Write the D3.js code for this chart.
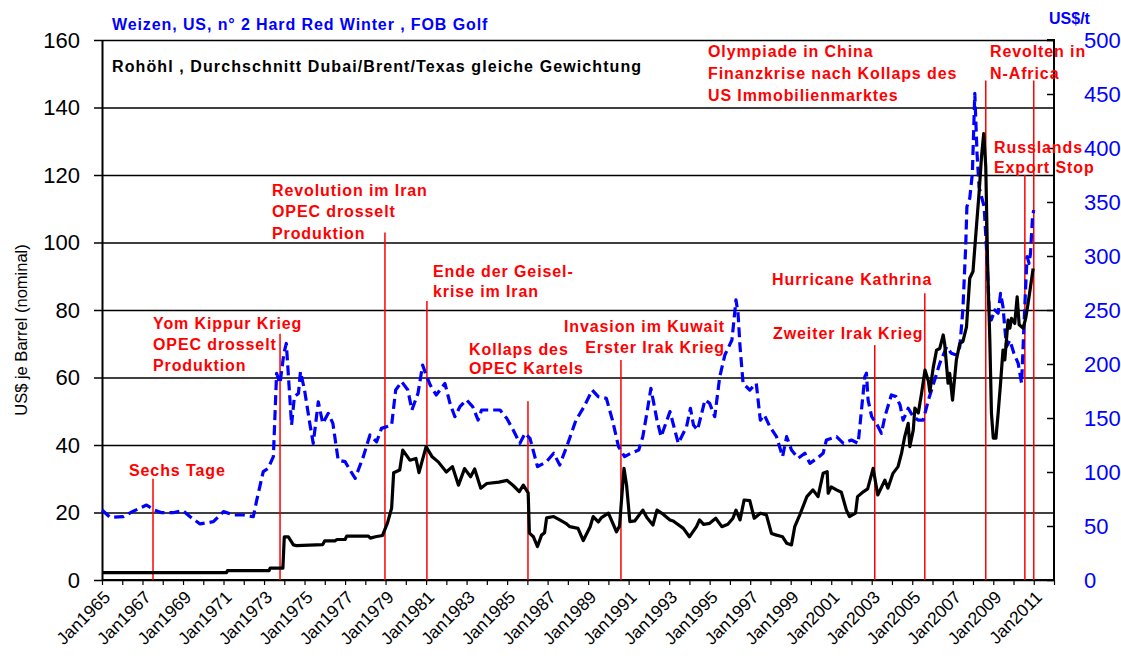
<!DOCTYPE html>
<html>
<head>
<meta charset="utf-8">
<script src="https://cdn.jsdelivr.net/npm/d3@7"></script>
<style>
  body { margin: 0; background: #fff; }
  svg { display: block; font-family: "Liberation Sans", Arial, sans-serif; }
</style>
</head>
<body>
<svg id="chart" width="1121" height="660"></svg>
<script>
// ---------------- DATA ----------------
const oilYears = [1965.0,1971.15,1971.2,1973.25,1973.3,1973.93,1974.0,1974.2,1974.45,1974.6,1975.9,1976.0,1976.5,1976.6,1977.0,1977.08,1978.15,1978.25,1978.5,1978.85,1979.1,1979.3,1979.4,1979.7,1979.85,1980.2,1980.5,1980.65,1981.0,1981.3,1981.6,1982.0,1982.3,1982.6,1982.9,1983.2,1983.4,1983.7,1984.0,1984.6,1985.0,1985.3,1985.6,1985.8,1986.04,1986.1,1986.3,1986.5,1986.7,1986.85,1986.95,1987.3,1987.6,1987.9,1988.1,1988.5,1988.76,1989.1,1989.25,1989.5,1989.66,1990.0,1990.4,1990.55,1990.77,1990.9,1991.06,1991.3,1991.7,1991.9,1992.2,1992.4,1992.7,1993.04,1993.2,1993.7,1994.0,1994.35,1994.5,1994.7,1995.0,1995.3,1995.6,1995.9,1996.15,1996.3,1996.5,1996.7,1996.98,1997.2,1997.5,1997.8,1998.05,1998.3,1998.6,1998.8,1999.04,1999.2,1999.45,1999.8,2000.1,2000.35,2000.6,2000.8,2000.85,2001.0,2001.26,2001.5,2001.75,2001.9,2002.2,2002.3,2002.6,2002.8,2003.07,2003.3,2003.65,2003.8,2004.05,2004.3,2004.47,2004.63,2004.8,2004.88,2005.05,2005.13,2005.3,2005.46,2005.63,2005.8,2005.87,2006.03,2006.2,2006.36,2006.53,2006.6,2006.77,2006.85,2006.99,2007.18,2007.35,2007.5,2007.68,2007.84,2008.0,2008.17,2008.3,2008.42,2008.53,2008.63,2008.72,2008.83,2008.91,2009.0,2009.13,2009.24,2009.36,2009.48,2009.57,2009.73,2009.82,2009.9,2010.06,2010.18,2010.28,2010.48,2010.6,2010.72,2010.84,2010.97];
const oilValues = [2.2,2.2,2.8,2.8,3.5,3.5,12.8,12.8,10.4,10.2,10.5,11.6,11.6,12.0,12.0,13.0,13.0,12.4,12.8,13.2,17,21.3,31.8,32.6,38.5,35.5,36,31.8,39.5,36.5,35,32,33.6,28.1,33,30.6,32.9,27.2,28.6,29,29.5,28,26.2,28.1,25.8,13.9,12.8,9.9,13.3,14,18.4,18.8,17.8,16.8,15.8,15.3,11.7,15.8,18.8,17.2,18.5,19.8,14.3,16,33.1,28,17.3,17.5,20.7,18.5,16.3,20.7,19.5,17.8,17.5,15.3,12.8,15.8,17.8,16.5,16.8,18.3,15.8,16.5,18.3,20.7,17.8,23.7,23.5,18.3,19.8,19.3,13.8,13.3,12.8,10.9,10.4,15.8,19.3,24.7,26.7,24.7,31.6,32.1,25.7,27.6,26.7,26,20.7,18.8,19.8,24.7,26.2,27,33.1,25.2,29.6,27.2,31.6,33.6,37.5,42.5,46.4,39.5,44.4,50.9,49.5,55.3,62.2,58.8,55.8,62.7,68.1,68.6,72.6,70.1,58.3,61.2,53.3,65.2,70.1,70.6,75,89.4,91.4,104.7,114.6,125.4,132.3,122.5,93.8,71.1,49.4,42,42,49.4,58.3,68.1,65.2,77,74.6,77.5,76,83.9,75.6,74.6,77.5,82,86.9,92.3];

const wheatYears = [1965.0,1965.4,1966.05,1966.5,1967.2,1967.6,1967.95,1968.5,1969.0,1969.35,1969.84,1970.5,1971.0,1971.5,1971.97,1972.47,1972.64,1972.96,1973.2,1973.46,1973.62,1973.79,1973.98,1974.1,1974.36,1974.5,1974.7,1974.8,1975.0,1975.26,1975.43,1975.68,1975.9,1976.17,1976.4,1976.66,1977.0,1977.24,1977.5,1977.9,1978.23,1978.56,1978.8,1979.3,1979.5,1979.8,1980.1,1980.3,1980.6,1980.83,1981.0,1981.2,1981.5,1981.93,1982.18,1982.42,1982.67,1983.0,1983.3,1983.57,1983.74,1984.15,1984.65,1984.98,1985.3,1985.63,1985.88,1986.13,1986.5,1986.95,1987.3,1987.6,1988.0,1988.4,1988.8,1989.2,1989.5,1989.9,1990.2,1990.5,1990.8,1991.1,1991.5,1991.7,1991.9,1992.1,1992.4,1992.6,1993.04,1993.45,1993.86,1994.05,1994.2,1994.4,1994.77,1995.0,1995.25,1995.5,1995.75,1996.1,1996.3,1996.4,1996.5,1996.65,1996.98,1997.3,1997.5,1997.7,1997.97,1998.3,1998.6,1998.8,1999.04,1999.37,1999.7,1999.95,2000.3,2000.6,2000.76,2001.26,2001.6,2002.0,2002.33,2002.66,2002.74,2002.82,2003.0,2003.23,2003.48,2003.65,2003.97,2004.2,2004.4,2004.55,2004.8,2005.05,2005.3,2005.54,2005.8,2006.03,2006.36,2006.7,2006.93,2007.18,2007.35,2007.5,2007.64,2007.7,2007.84,2007.97,2008.09,2008.2,2008.3,2008.42,2008.55,2008.67,2008.8,2008.9,2009.08,2009.24,2009.36,2009.48,2009.65,2009.82,2010.02,2010.23,2010.4,2010.5,2010.6,2010.67,2010.77,2010.84,2010.94,2011.0];
const wheatValues = [64.8,58,58.6,63.3,69.4,64.8,62.3,62.3,64.2,58.6,51.9,54,63.3,60.2,60.2,58.6,74,100.3,103.4,114.2,191.4,182,210,219,143.5,169.8,172.8,192.9,175.9,145,126.5,165,145,154.3,145,111,109.6,101.9,94.1,114.2,134.3,128,140.4,143.5,175.9,183.6,175.9,157.4,172.8,199,189.8,180.6,171.3,182,163.6,151.2,160.5,166.7,160.5,148.1,157.4,157.4,157.4,149.7,138.9,126.5,135.8,131.2,104.9,109.6,117.3,106.5,126.5,148,160.5,175.9,169.8,168.2,148,123.5,114.2,117.3,120.4,132.7,154.3,177.5,148,132.7,155.9,126.5,142,159,143.5,138.9,166.7,163.6,151.2,188.3,208.3,222.2,259.3,247,216,182,175.9,182,148,152.8,142,132.7,114.2,132.7,120.4,112.7,117.3,108,112.7,117.3,129.6,132.7,126.5,129.6,126.5,188.3,191.4,166.7,151.2,145,135.8,151.2,171.3,169.8,162,148,159,151.2,148,148,166.7,180.6,200.6,216,209.9,208.3,216,250,308.6,345.7,353.4,376.5,450.6,395,364,355,345.7,305.6,250,240.7,250,247,265.4,253,216,222,209.9,200.6,182,228.4,271.6,299.4,293.2,302.5,336.4,342.6];

const leftTicks = [0,20,40,60,80,100,120,140,160];
const rightTicks = [0,50,100,150,200,250,300,350,400,450,500];
const xLabelYears = d3.range(1965, 2012, 2);

// events: date (decimal year), top of marker (in left-axis units), label lines
const eventYears = [1967.52, 1973.79, 1978.97, 1981.04, 1986.03, 1990.62, 2003.15, 2005.62, 2008.63, 2010.56, 2011.0];
const eventTops  = [30, 73, 103, 82.7, 53, 65.2, 69.6, 85, 148, 120, 148];
const eventTexts = [
  ["Sechs Tage"],
  ["Yom Kippur Krieg", "OPEC drosselt", "Produktion"],
  ["Revolution im Iran", "OPEC drosselt", "Produktion"],
  ["Ende der Geisel-", "krise im Iran"],
  ["Kollaps des", "OPEC Kartels"],
  ["Invasion im Kuwait", "Erster Irak Krieg"],
  ["Zweiter Irak Krieg"],
  ["Hurricane Kathrina"],
  ["Olympiade in China", "Finanzkrise nach Kollaps des", "US Immobilienmarktes"],
  ["Russlands", "Export Stop"],
  ["Revolten in", "N-Africa"]
];

// ---------------- LAYOUT ----------------
const labelPos = [
  {x:129, y:470, anchor:"start"},
  {x:153, y:323, anchor:"start"},
  {x:272, y:190, anchor:"start"},
  {x:433, y:271, anchor:"start"},
  {x:469, y:349, anchor:"start"},
  {x:725, y:326, anchor:"end"},
  {x:773, y:333, anchor:"start"},
  {x:772, y:279, anchor:"start"},
  {x:708, y:51, anchor:"start"},
  {x:994, y:147, anchor:"start"},
  {x:990, y:51, anchor:"start"}
];
const lineGap = [21, 21, 21.5, 20.5, 19.5, 21, 21, 21, 22, 20.5, 22];

const plot = {left:102, right:1054, top:40, bottom:580};
const labelFont = {size: 16, spacing: 0.9};

function toDate(v) {
  const y = Math.floor(v);
  const s = new Date(y, 0, 1), e = new Date(y + 1, 0, 1);
  return new Date(+s + (v - y) * (e - s));
}

const svg = d3.select("#chart");
const x = d3.scaleTime().domain([new Date(1965,0,1), new Date(2012,0,1)]).range([plot.left, plot.right]);
const yL = d3.scaleLinear().domain([0,160]).range([plot.bottom, plot.top]);
const yR = d3.scaleLinear().domain([0,500]).range([plot.bottom, plot.top]);

// gridlines (left axis) with outer ticks
const gridAxis = d3.axisLeft(yL).tickValues(leftTicks).tickSize(-(plot.right - plot.left)).tickFormat("");
const gG = svg.append("g").attr("transform", `translate(${plot.left},0)`).call(gridAxis);
gG.select(".domain").remove();
gG.selectAll(".tick line").attr("stroke", "#000").attr("stroke-width", 1.5).attr("x1", -8);

// left axis labels + line
const lAxis = d3.axisLeft(yL).tickValues(leftTicks).tickSize(0).tickPadding(22);
const lG = svg.append("g").attr("transform", `translate(${plot.left},0)`).call(lAxis);
lG.select(".domain").attr("stroke", "#000").attr("stroke-width", 2);
lG.selectAll(".tick text").attr("font-size", 22).attr("fill", "#000").attr("font-family", "Liberation Sans, Arial, sans-serif");

// right axis
const rAxis = d3.axisRight(yR).tickValues(rightTicks).tickSize(-7).tickPadding(30);
const rG = svg.append("g").attr("transform", `translate(${plot.right},0)`).call(rAxis);
rG.select(".domain").attr("stroke", "#000").attr("stroke-width", 2).attr("d", `M-7,${plot.top}H0V${plot.bottom}H-7`);
rG.selectAll(".tick line").attr("stroke", "#000").attr("stroke-width", 1.5);
rG.selectAll(".tick text").attr("font-size", 22).attr("fill", "#0000ff").attr("font-family", "Liberation Sans, Arial, sans-serif");

// x axis
const xAxis = d3.axisBottom(x).ticks(d3.timeYear.every(1)).tickSize(5).tickFormat("");
const xG = svg.append("g").attr("transform", `translate(0,${plot.bottom})`).call(xAxis);
xG.select(".domain").attr("stroke", "#000").attr("stroke-width", 2).attr("d", `M${plot.left},0H${plot.right}`);
xG.selectAll(".tick line").attr("stroke", "#000").attr("stroke-width", 1.2);

svg.append("g").selectAll("text").data(xLabelYears).join("text")
  .attr("transform", d => `translate(${x(new Date(d,0,1)) + 5},${plot.bottom + 14}) rotate(-45)`)
  .attr("text-anchor", "end")
  .attr("dy", "0.35em")
  .attr("font-size", 17.5)
  .attr("fill", "#000")
  .text(d => "Jan" + d);

// event lines
svg.append("g").selectAll("line").data(eventYears).join("line")
  .attr("x1", d => x(toDate(d))).attr("x2", d => x(toDate(d)))
  .attr("y1", (d,i) => yL(eventTops[i])).attr("y2", plot.bottom)
  .attr("stroke", "#ff0000").attr("stroke-width", 1.5);

// series
const wheat = wheatYears.map((d,i) => ({date: toDate(d), v: wheatValues[i]}));
const oil = oilYears.map((d,i) => ({date: toDate(d), v: oilValues[i]}));

svg.append("path").datum(wheat)
  .attr("fill", "none").attr("stroke", "#0000ff").attr("stroke-width", 3.2)
  .attr("stroke-dasharray", "10,5").attr("stroke-linejoin", "round")
  .attr("d", d3.line().x(d => x(d.date)).y(d => yR(d.v)));

svg.append("path").datum(oil)
  .attr("fill", "none").attr("stroke", "#000").attr("stroke-width", 3.2)
  .attr("stroke-linejoin", "round")
  .attr("d", d3.line().x(d => x(d.date)).y(d => yL(d.v)));

// event labels
eventTexts.forEach((lines, i) => {
  const p = labelPos[i];
  const t = svg.append("text")
    .attr("font-size", labelFont.size).attr("font-weight", "bold").attr("fill", "#ff0000")
    .attr("letter-spacing", labelFont.spacing)
    .attr("text-anchor", p.anchor);
  lines.forEach((ln, j) => {
    t.append("tspan").attr("x", p.x).attr("y", p.y + j * lineGap[i]).attr("dy", "0.35em").text(ln);
  });
});

// titles
svg.append("text").attr("x", 112).attr("y", 24).attr("dy", "0.35em")
  .attr("font-size", labelFont.size).attr("font-weight", "bold").attr("fill", "#0000ff")
  .attr("letter-spacing", labelFont.spacing)
  .text("Weizen, US, n° 2 Hard Red Winter , FOB Golf");
svg.append("text").attr("x", 112).attr("y", 66).attr("dy", "0.35em")
  .attr("font-size", labelFont.size).attr("font-weight", "bold").attr("fill", "#000")
  .attr("letter-spacing", 1.1)
  .text("Rohöhl , Durchschnitt Dubai/Brent/Texas gleiche Gewichtung");
svg.append("text").attr("x", 1049).attr("y", 18).attr("dy", "0.35em")
  .attr("font-size", labelFont.size).attr("font-weight", "bold").attr("fill", "#0000ff")
  .text("US$/t");
svg.append("text").attr("transform", `translate(21,${(plot.top+plot.bottom)/2 + 20}) rotate(-90)`)
  .attr("text-anchor", "middle").attr("dy", "0.35em")
  .attr("font-size", 16.5).attr("fill", "#000")
  .text("US$ je Barrel (nominal)");
</script>
</body>
</html>
